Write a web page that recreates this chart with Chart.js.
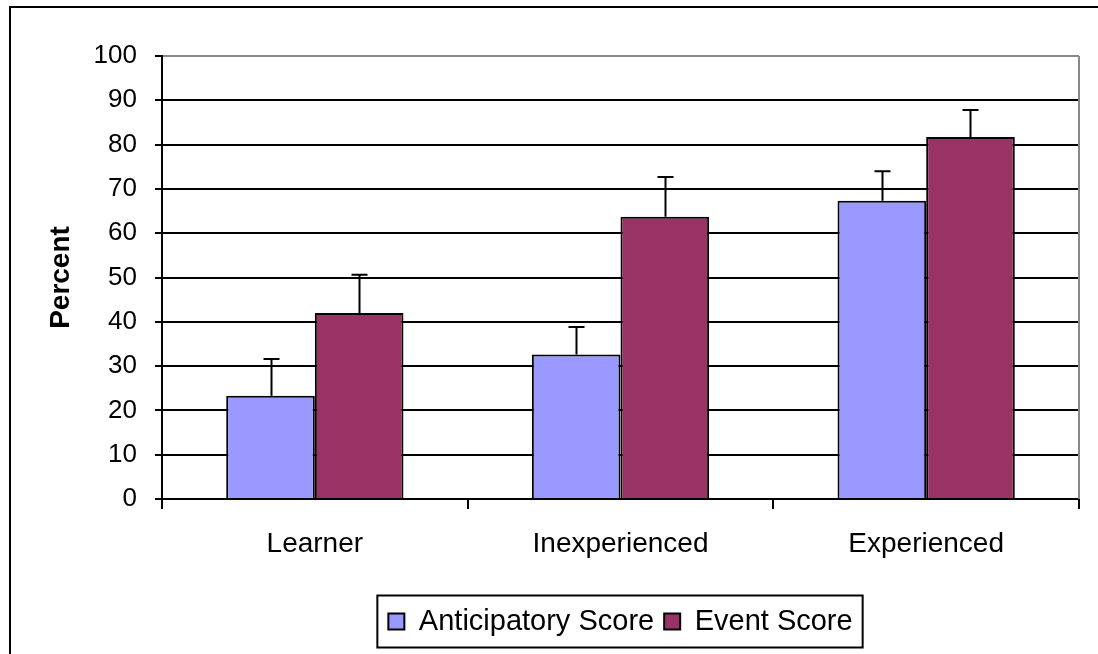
<!DOCTYPE html>
<html>
<head>
<meta charset="utf-8">
<script src="https://cdn.jsdelivr.net/npm/chart.js@4"></script>
<style>
  html, body { margin: 0; padding: 0; background: #fff; }
  #wrap { width: 1098px; height: 654px; }
</style>
</head>
<body>
<div id="wrap"><canvas id="c" width="1098" height="654"></canvas></div>
<script>
const categories = ['Learner', 'Inexperienced', 'Experienced'];
const anticipatory = [23.3, 32.6, 67.3];
const eventScore = [42.0, 63.7, 81.7];
const anticipatoryErr = [8.3, 6.2, 6.7];
const eventErr = [8.6, 9.0, 6.1];
const seriesNames = ['Anticipatory Score', 'Event Score'];
const yTicks = [0, 10, 20, 30, 40, 50, 60, 70, 80, 90, 100];

const FONT = 'Liberation Sans, Arial, sans-serif';

const framePlugin = {
  id: 'frame',
  beforeDraw(chart) {
    const ctx = chart.ctx;
    ctx.save();
    ctx.fillStyle = '#fff';
    ctx.fillRect(0, 0, chart.width, chart.height);
    ctx.strokeStyle = '#000';
    ctx.lineWidth = 2;
    ctx.beginPath();
    ctx.moveTo(10, chart.height + 5);
    ctx.lineTo(10, 7);
    ctx.lineTo(chart.width + 5, 7);
    ctx.stroke();
    ctx.restore();
  },
  afterDraw(chart) {
    const ctx = chart.ctx;
    const a = chart.chartArea;
    ctx.save();
    ctx.strokeStyle = '#888';
    ctx.lineWidth = 2;
    ctx.beginPath();
    ctx.moveTo(a.right, a.top);
    ctx.lineTo(a.right, a.bottom);
    ctx.stroke();
    const lg = chart.legend;
    if (lg && lg.legendHitBoxes && lg.legendHitBoxes.length) {
      let minL = Infinity, maxR = -Infinity, minT = Infinity, maxB = -Infinity;
      lg.legendHitBoxes.forEach(h => {
        minL = Math.min(minL, h.left);
        maxR = Math.max(maxR, h.left + h.width);
        minT = Math.min(minT, h.top);
        maxB = Math.max(maxB, h.top + h.height);
      });
      const cy = (minT + maxB) / 2;
      ctx.strokeStyle = '#000';
      ctx.lineWidth = 2;
      ctx.strokeRect(minL - 11, cy - 26, (maxR - minL) + 21, 52);
    }
    ctx.restore();
  }
};

const errPlugin = {
  id: 'errbars',
  afterDatasetsDraw(chart) {
    const ctx = chart.ctx;
    const y = chart.scales.y;
    const errs = [anticipatoryErr, eventErr];
    ctx.save();
    ctx.strokeStyle = '#000';
    ctx.lineWidth = 2;
    chart.data.datasets.forEach((ds, di) => {
      const meta = chart.getDatasetMeta(di);
      meta.data.forEach((bar, i) => {
        const v = ds.data[i];
        const top = y.getPixelForValue(v + errs[di][i]);
        const x = Math.round(bar.x) + 0.5;
        ctx.beginPath();
        ctx.moveTo(x, bar.y);
        ctx.lineTo(x, top);
        ctx.moveTo(x - 8, top);
        ctx.lineTo(x + 8, top);
        ctx.stroke();
      });
    });
    ctx.restore();
  }
};

new Chart(document.getElementById('c'), {
  type: 'bar',
  data: {
    labels: categories,
    datasets: [
      { label: seriesNames[0], data: anticipatory, backgroundColor: '#9999FF', borderColor: '#000', borderWidth: 2 },
      { label: seriesNames[1], data: eventScore, backgroundColor: '#993366', borderColor: '#000', borderWidth: 2 }
    ]
  },
  options: {
    responsive: false,
    animation: false,
    devicePixelRatio: 1,
    layout: { padding: { left: 0, right: 19, top: 56, bottom: 8 } },
    datasets: { bar: { barPercentage: 1, categoryPercentage: 0.58 } },
    plugins: {
      tooltip: { enabled: false },
      legend: {
        position: 'bottom',
        fullSize: false,
        labels: {
          color: '#000',
          font: { family: FONT, size: 29 },
          boxWidth: 16,
          boxHeight: 16,
          padding: 10
        }
      }
    },
    scales: {
      x: {
        grid: { display: true, drawOnChartArea: false, offset: true, tickLength: 10, color: '#000', lineWidth: 2 },
        border: { display: true, color: '#000', width: 2 },
        ticks: { color: '#000', font: { family: FONT, size: 28 }, padding: 18, maxRotation: 0 },
        afterFit(scale) { scale.height = 98; }
      },
      y: {
        min: 0, max: 100,
        afterBuildTicks(scale) { scale.ticks = yTicks.map(v => ({ value: v })); },
        grid: {
          color: (c) => (c.tick && c.tick.value === 100 ? '#888' : '#000'),
          tickColor: '#000',
          lineWidth: 2,
          tickLength: 7
        },
        border: { display: true, color: '#000', width: 2 },
        ticks: { color: '#000', font: { family: FONT, size: 26 }, padding: 18 },
        title: {
          display: true, text: 'Percent', color: '#000',
          font: { family: FONT, size: 28, weight: 'bold' },
          padding: { top: 44, bottom: 0 }
        },
        afterFit(scale) { scale.width = 162; }
      }
    }
  },
  plugins: [framePlugin, errPlugin]
});
</script>
</body>
</html>
